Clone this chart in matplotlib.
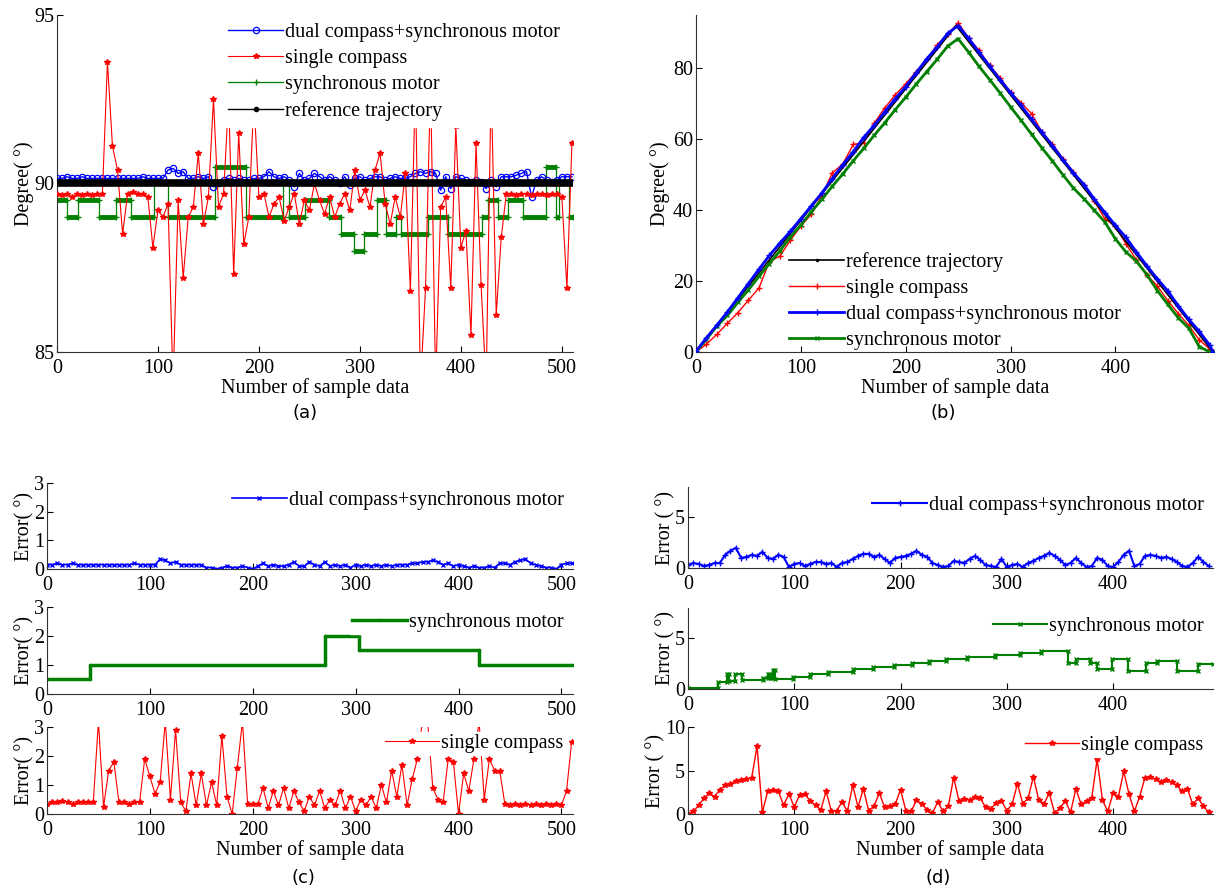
import numpy as np
import matplotlib
matplotlib.use("Agg")
import matplotlib.pyplot as plt

plt.rcParams['font.family'] = ['Liberation Serif', 'DejaVu Serif']

BLUE = '#0000ff'
RED = '#ff0000'
GREEN = '#008000'

# ---------------- data (a): heading held at 90 deg, samples every 5 ----------------
a_dual = [90.15, 90.15, 90.2, 90.15, 90.15, 90.2, 90.15, 90.15, 90.15, 90.15,
          90.15, 90.15, 90.15, 90.15, 90.15, 90.15, 90.15, 90.2, 90.15, 90.15,
          90.15, 90.15, 90.4, 90.45, 90.3, 90.35, 90.15, 90.15, 90.2, 90.15,
          90.2, 89.9, 90.0, 90.1, 90.15, 90.1, 90.15, 90.1, 90.1, 90.15,
          90.15, 90.2, 90.35, 90.2, 90.15, 90.2, 90.1, 89.9, 90.3, 90.1,
          90.15, 90.3, 90.2, 90.1, 90.2, 90.1, 90.0, 90.2, 89.95, 90.15,
          90.2, 90.1, 90.15, 90.2, 90.2, 90.1, 90.15, 90.2, 90.15, 90.15,
          90.2, 90.3, 90.35, 90.3, 90.35, 90.3, 89.8, 90.2, 89.85, 90.2,
          90.15, 90.1, 90.05, 90.1, 90.05, 89.85, 90.1, 89.9, 90.2, 90.2,
          90.2, 90.25, 90.3, 90.35, 89.6, 90.1, 90.2, 90.1, 90.05, 90.1,
          90.2, 90.2, 90.2]
a_single = [89.7, 89.65, 89.7, 89.6, 89.7, 89.65, 89.7, 89.65, 89.7, 89.7,
            93.6, 91.1, 90.4, 88.5, 89.7, 89.75, 89.7, 89.7, 89.6, 88.1,
            89.2, 89.0, 89.4, 84.0, 89.5, 87.2, 89.0, 89.3, 90.9, 88.8,
            89.6, 92.5, 89.3, 89.7, 92.5, 87.3, 91.5, 88.2, 89.0, 92.5,
            89.6, 89.7, 89.0, 89.4, 89.6, 88.9, 89.3, 89.7, 88.8, 89.5,
            89.2, 90.0, 89.5, 89.1, 89.6, 89.0, 89.4, 89.7, 89.2, 90.4,
            89.5, 89.8, 89.3, 90.4, 90.9, 89.4, 88.8, 89.6, 89.0, 90.3,
            86.8, 93.0, 84.0, 86.9, 93.0, 84.0, 89.3, 89.6, 86.9, 91.7,
            88.1, 88.6, 85.5, 91.2, 87.0, 84.0, 93.0, 86.1, 88.4, 89.7,
            89.7, 89.65, 89.7, 89.7, 89.65, 89.7, 89.7, 89.65, 89.7, 89.7,
            89.6, 86.9, 91.2]
# synchronous motor holds discrete steps
a_motor_edges = [0, 10, 21, 42, 58, 73, 96, 110, 157, 187, 224, 230, 246,
                 269, 281, 294, 304, 317, 326, 336, 341, 367, 387, 421, 427,
                 437, 447, 462, 484, 494, 497, 507, 511]
a_motor_levels = [89.5, 89.0, 89.5, 89.0, 89.5, 89.0, 90.0, 89.0, 90.5, 89.0,
                  90.0, 89.0, 89.5, 89.0, 88.5, 88.0, 88.5, 89.5, 88.5, 89.0,
                  88.5, 89.0, 88.5, 89.0, 89.5, 89.0, 89.5, 89.0, 90.5, 89.0,
                  90.0, 89.0]
a_ref_x = [0, 510]
a_ref_y = [90, 90]

# ---------------- data (b): triangular sweep, samples every 10 ----------------
b_x = list(range(0, 491, 10)) + [493]
b_ref_x = [0, 248, 493]
b_ref_y = [0, 92, 0]
b_single = [0.0, 2.2, 5.0, 8.1, 11.1, 14.6, 18.0, 25.5, 27.0, 31.5,
            35.5, 38.8, 44.0, 50.5, 53.0, 58.5, 59.0, 64.5, 68.8, 72.5,
            75.6, 79.0, 82.5, 86.6, 89.6, 92.8, 88.5, 85.0, 80.8, 77.3,
            73.2, 70.3, 67.2, 62.0, 58.6, 54.5, 50.8, 47.0, 42.5, 37.5,
            35.5, 30.5, 26.0, 21.8, 18.6, 14.5, 10.8, 7.5, 3.4, 0.8, 0.0]
b_dual = [0.2, 4.0, 7.6, 11.3, 15.3, 19.3, 23.3, 27.2, 30.7, 34.0,
          37.6, 41.2, 44.8, 48.9, 52.8, 56.5, 60.5, 63.9, 67.7, 71.4,
          74.8, 78.7, 82.6, 86.0, 89.8, 92.0, 88.4, 84.5, 80.6, 76.8,
          73.1, 69.5, 65.6, 61.9, 58.2, 54.2, 50.5, 47.2, 43.0, 39.3,
          35.7, 32.3, 28.2, 24.3, 20.6, 17.2, 13.0, 9.2, 5.8, 1.9, 0.0]
b_motor = [0.0, 3.6, 7.3, 10.3, 14.0, 17.5, 21.3, 24.9, 28.5, 32.4,
           35.8, 39.5, 43.0, 46.7, 50.2, 53.9, 57.4, 61.1, 64.6, 68.3,
           71.8, 75.5, 79.0, 82.5, 86.2, 88.3, 84.5, 80.5, 76.8, 73.0,
           69.1, 65.3, 61.4, 57.5, 53.8, 49.9, 46.2, 43.2, 39.9, 36.6,
           31.9, 28.2, 25.6, 21.8, 17.3, 13.4, 9.6, 6.7, 1.5, 0.0, 0.0]

# ---------------- data (c): errors of (a), samples every 5 ----------------
c_dual = [0.15, 0.15, 0.2, 0.15, 0.15, 0.2, 0.15, 0.15, 0.15, 0.15,
          0.15, 0.15, 0.15, 0.15, 0.15, 0.15, 0.15, 0.2, 0.15, 0.15,
          0.15, 0.15, 0.35, 0.3, 0.2, 0.25, 0.15, 0.15, 0.15, 0.15,
          0.15, 0.05, 0.05, 0.0, 0.05, 0.1, 0.05, 0.05, 0.1, 0.05,
          0.0, 0.1, 0.2, 0.1, 0.15, 0.1, 0.1, 0.15, 0.25, 0.1,
          0.1, 0.25, 0.15, 0.1, 0.25, 0.1, 0.15, 0.1, 0.15, 0.05,
          0.15, 0.1, 0.15, 0.1, 0.15, 0.1, 0.15, 0.1, 0.15, 0.15,
          0.15, 0.2, 0.2, 0.25, 0.25, 0.3, 0.25, 0.15, 0.2, 0.1,
          0.15, 0.1, 0.05, 0.1, 0.05, 0.05, 0.1, 0.05, 0.2, 0.2,
          0.15, 0.25, 0.3, 0.35, 0.2, 0.15, 0.1, 0.05, 0.05, 0.0,
          0.15, 0.2, 0.2]
c_motor_edges = [0, 42, 270, 303, 420, 511]
c_motor_levels = [0.5, 1.0, 2.0, 1.5, 1.0]
c_single = [0.35, 0.4, 0.4, 0.45, 0.4, 0.35, 0.4, 0.4, 0.4, 0.4,
            3.2, 0.25, 1.5, 1.8, 0.4, 0.4, 0.35, 0.4, 0.4, 1.9,
            1.3, 0.7, 1.1, 3.2, 0.5, 2.9, 0.4, 0.1, 1.4, 0.3,
            1.4, 0.3, 1.1, 0.3, 2.7, 0.6, 0.0, 1.6, 3.2, 0.35,
            0.35, 0.35, 0.9, 0.2, 0.8, 0.3, 0.9, 0.2, 0.8, 0.4,
            0.1, 0.6, 0.3, 0.8, 0.2, 0.5, 0.3, 0.8, 0.2, 0.6,
            0.1, 0.5, 0.3, 0.6, 0.2, 1.0, 0.4, 1.5, 0.6, 1.7,
            0.3, 1.2, 1.9, 3.2, 3.2, 0.9, 0.5, 0.4, 1.9, 1.8,
            0.0, 1.4, 0.8, 1.9, 3.2, 0.5, 1.9, 1.5, 1.5, 0.35,
            0.3, 0.35, 0.3, 0.35, 0.3, 0.35, 0.3, 0.35, 0.3, 0.35,
            0.3, 0.8, 2.5]

# ---------------- data (d): errors of (b), samples every 5 ----------------
d_dual = [0.3, 0.5, 0.4, 0.2, 0.3, 0.5, 0.5, 1.3, 1.7, 2.0,
          1.0, 1.1, 1.3, 1.2, 1.6, 1.0, 0.9, 1.3, 1.1, 0.1,
          0.4, 0.5, 0.2, 0.4, 0.6, 0.6, 0.4, 0.5, 0.1, 0.5,
          0.6, 0.9, 1.2, 1.4, 1.4, 1.1, 1.3, 0.9, 0.5, 1.0,
          1.1, 1.2, 1.4, 1.7, 1.3, 1.1, 0.5, 0.3, 0.1, 0.2,
          0.7, 0.6, 0.5, 0.9, 1.2, 0.8, 0.3, 0.2, 0.1, 0.9,
          0.1, 0.3, 0.4, 0.1, 0.5, 0.7, 1.0, 1.2, 1.5, 1.2,
          0.8, 0.3, 0.5, 1.0, 0.5, 0.1, 0.2, 1.0, 0.8, 0.2,
          0.1, 0.6, 1.3, 1.7, 0.2, 0.4, 1.2, 1.3, 1.2, 1.0,
          1.1, 0.9, 0.6, 0.2, 0.1, 0.5, 1.1, 0.6, 0.2]
d_motor_edges = [0, 28, 37, 39, 44, 51, 71, 75, 77, 80, 82, 99, 115, 132,
                 155, 174, 194, 211, 227, 243, 263, 289, 312, 332, 358, 365,
                 378, 385, 399, 414, 431, 441, 460, 480, 494]
d_motor_levels = [0.1, 0.7, 1.5, 0.8, 1.5, 0.9, 1.1, 1.5, 1.1, 1.9,
                  1.0, 1.2, 1.45, 1.65, 2.0, 2.2, 2.4, 2.55, 2.8, 3.0,
                  3.15, 3.4, 3.6, 3.8, 2.55, 3.0, 2.55, 2.0, 3.0, 1.8,
                  2.55, 2.75, 1.8, 2.5]
d_single = [0.0, 0.3, 1.0, 1.8, 2.4, 2.0, 2.8, 3.3, 3.5, 3.8,
            3.9, 4.0, 4.2, 7.8, 0.2, 2.6, 2.8, 2.6, 1.0, 2.3,
            0.8, 2.2, 2.3, 1.5, 1.0, 0.5, 2.6, 0.3, 0.4, 1.4,
            0.3, 3.3, 0.8, 2.9, 0.4, 0.9, 2.4, 0.8, 0.9, 1.1,
            2.8, 0.4, 0.3, 1.6, 1.2, 0.5, 0.1, 1.4, 0.3, 0.9,
            4.2, 1.5, 1.7, 1.6, 2.0, 1.8, 0.8, 0.6, 1.3, 1.5,
            0.4, 1.1, 3.5, 1.2, 1.8, 4.3, 1.6, 1.2, 2.4, 0.1,
            0.7, 1.5, 0.2, 2.9, 1.1, 1.5, 1.9, 6.3, 1.6, 0.3,
            2.4, 2.0, 4.9, 2.3, 0.3, 2.0, 4.2, 4.3, 4.0, 3.7,
            3.9, 3.7, 3.3, 2.6, 2.9, 1.1, 1.8, 0.9, 0.2]

FS = 14.5


def step_xy(edges, levels):
    xs = np.repeat(np.asarray(edges, float), 2)[1:-1]
    ys = np.repeat(np.asarray(levels, float), 2)
    return xs, ys


def idx5(vals):
    return np.arange(len(vals)) * 5


def style(ax):
    ax.spines['top'].set_visible(False)
    ax.spines['right'].set_visible(False)
    for s in ('left', 'bottom'):
        ax.spines[s].set_color('#333333')
    ax.tick_params(direction='in', length=4, labelsize=FS)
    ax.tick_params(axis='x', pad=5)
    ax.tick_params(axis='y', pad=2)


def leg(ax, opaque=True, **kw):
    opts = dict(fancybox=False, fontsize=FS, handlelength=2.7,
                handletextpad=0.1, borderpad=0.2, borderaxespad=0.1)
    opts.update(kw)
    l = ax.legend(frameon=opaque, **opts)
    if opaque:
        l.get_frame().set_edgecolor('white')
        l.get_frame().set_facecolor('white')
        l.get_frame().set_alpha(1)
    return l


fig = plt.figure(figsize=(12.17, 8.92), dpi=100)

# ---- (a)
ax = fig.add_axes([0.0468, 0.6054, 0.424, 0.3778])
ax.plot(idx5(a_dual), a_dual, '-o', color=BLUE, lw=1.0, ms=4.5, mfc='none',
        mew=0.9, label='dual compass+synchronous motor', zorder=3)
ax.plot(idx5(a_single), a_single, '-', color=RED, lw=0.8, marker='*', ms=4,
        label='single compass', zorder=4)
mx, my = step_xy(a_motor_edges, a_motor_levels)
ax.hlines(a_motor_levels, a_motor_edges[:-1], a_motor_edges[1:], color=GREEN,
          lw=3.5, zorder=2)
ax.plot(mx, my, '-', color=GREEN, lw=0.9, marker='+', ms=5,
        label='synchronous motor', zorder=2)
ax.plot(a_ref_x, a_ref_y, '-', color='black', lw=5.5, zorder=5)
ax.plot([], [], '-', color='black', lw=1.0, marker='.', ms=6,
        label='reference trajectory')
ax.set_xlim(0, 511)
ax.set_ylim(85, 95)
ax.set_yticks([85, 90, 95])
ax.set_xticks(range(0, 501, 100))
style(ax)
ax.set_ylabel('Degree( °)', fontsize=FS, labelpad=0)
ax.set_xlabel('Number of sample data', fontsize=FS, labelpad=0)
leg(ax, loc='upper right', bbox_to_anchor=(0.99, 1.0), labelspacing=0.35,
    borderpad=0.3)
fig.text(305 / 1217, 1 - 413 / 892, '(a)', ha='center', va='center',
         fontsize=13, family='DejaVu Sans')

# ---- (b)
ax = fig.add_axes([0.5719, 0.6054, 0.4256, 0.3778])
ax.plot(b_ref_x, b_ref_y, '-', color='black', lw=1.2, marker='.', ms=3,
        label='reference trajectory', zorder=3)
ax.plot(b_x, b_single, '-', color=RED, lw=1.0, marker='+', ms=4,
        label='single compass', zorder=2)
ax.plot(b_x, b_dual, '-', color=BLUE, lw=2.0, marker='+', ms=4,
        label='dual compass+synchronous motor', zorder=4)
ax.plot(b_x, b_motor, '-', color=GREEN, lw=2.0, marker='x', ms=3,
        label='synchronous motor', zorder=3)
ax.set_xlim(0, 494)
ax.set_ylim(0, 95)
ax.set_xticks(range(0, 401, 100))
ax.set_yticks(range(0, 81, 20))
style(ax)
ax.set_ylabel('Degree( °)', fontsize=FS, labelpad=2)
ax.set_xlabel('Number of sample data', fontsize=FS, labelpad=0)
leg(ax, opaque=False, loc='lower center', bbox_to_anchor=(0.5, -0.013),
    labelspacing=0.35)
fig.text(943 / 1217, 1 - 413 / 892, '(b)', ha='center', va='center',
         fontsize=13, family='DejaVu Sans')

# ---- (c)
c_boxes = [[0.0386, 0.3621, 0.432, 0.0964],
           [0.0386, 0.2220, 0.432, 0.0975],
           [0.0386, 0.0874, 0.432, 0.0975]]
c_anchor = [0.95, 0.98, 0.97]
axc = [fig.add_axes(b) for b in c_boxes]
axc[0].plot(idx5(c_dual), c_dual, '-', color=BLUE, lw=1.2, marker='x', ms=3,
            label='dual compass+synchronous motor')
cx, cy = step_xy(c_motor_edges, c_motor_levels)
axc[1].plot(cx, cy, '-', color=GREEN, lw=2.5, marker='.', ms=3,
            label='synchronous motor')
axc[2].plot(idx5(c_single), c_single, '-', color=RED, lw=0.8, marker='*', ms=4,
            label='single compass')
for a, yb in zip(axc, c_anchor):
    a.set_xlim(0, 511)
    a.set_ylim(0, 3)
    a.set_yticks([0, 1, 2, 3])
    a.set_xticks(range(0, 501, 100))
    style(a)
    a.set_ylabel('Error( °)', fontsize=FS, labelpad=0)
    leg(a, loc='upper right', bbox_to_anchor=(0.99, yb), borderpad=0.1)
axc[2].set_xlabel('Number of sample data', fontsize=FS, labelpad=0)
fig.text(303 / 1217, 1 - 878 / 892, '(c)', ha='center', va='center',
         fontsize=13, family='DejaVu Sans')

# ---- (d)
d_boxes = [[0.5653, 0.3632, 0.4314, 0.0908],
           [0.5653, 0.2276, 0.4314, 0.0908],
           [0.5653, 0.0874, 0.4314, 0.0975]]
axd = [fig.add_axes(b) for b in d_boxes]
axd[0].plot(idx5(d_dual), d_dual, '-', color=BLUE, lw=1.5, marker='+', ms=4,
            label='dual compass+synchronous motor')
dx, dy = step_xy(d_motor_edges, d_motor_levels)
axd[1].plot(dx, dy, '-', color=GREEN, lw=1.5, marker='x', ms=2.5,
            label='synchronous motor')
axd[2].plot(idx5(d_single), d_single, '-', color=RED, lw=1.0, marker='*', ms=4,
            label='single compass')
for i, a in enumerate(axd):
    a.set_xlim(0, 494)
    if i < 2:
        a.set_ylim(0, 8)
        a.set_yticks([0, 5])
    else:
        a.set_ylim(0, 10)
        a.set_yticks([0, 5, 10])
    a.set_xticks(range(0, 401, 100))
    style(a)
    a.set_ylabel('Error ( °)', fontsize=FS, labelpad=0)
    leg(a, loc='upper right', bbox_to_anchor=(0.99, 0.94), borderpad=0.1)
axd[2].set_xlabel('Number of sample data', fontsize=FS, labelpad=0)
fig.text(938 / 1217, 1 - 878 / 892, '(d)', ha='center', va='center',
         fontsize=13, family='DejaVu Sans')

fig.savefig('out.png', dpi=100)
